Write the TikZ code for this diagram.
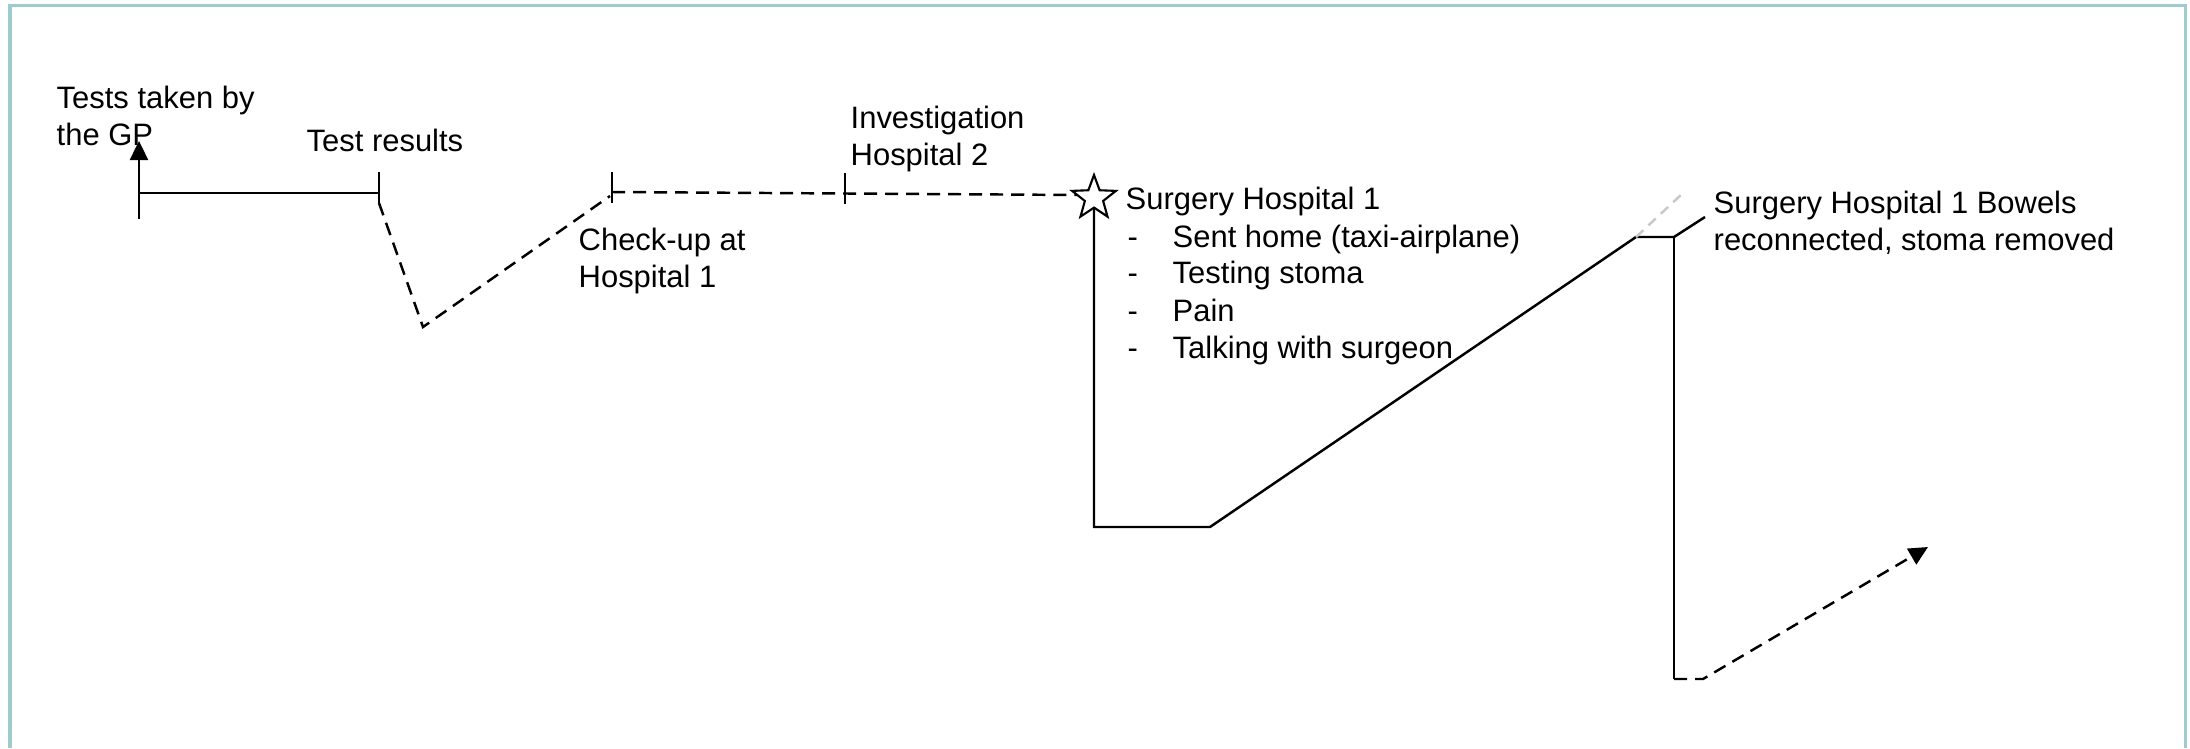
\documentclass[tikz,border=0pt]{standalone}
\usepackage{fontspec}
\setmainfont{Liberation Sans}
\usetikzlibrary{shapes.geometric,arrows.meta}
\definecolor{frameteal}{RGB}{158,204,204}
\definecolor{lightdash}{RGB}{200,200,200}
\begin{document}
\begin{tikzpicture}[x=0.01cm,y=-0.01cm,
  line/.style={line width=0.7pt, black},
  dashline/.style={line, dash pattern=on 0.13cm off 0.08cm},
  graydash/.style={line width=0.7pt, lightdash, dash pattern=on 0.1cm off 0.07cm},
  lbl/.style={font=\fontsize{8.8}{10.3}\selectfont, inner sep=0pt, anchor=base west, align=left},
  tip/.style={-{Triangle[width=0.18cm,length=0.19cm]}}]
\useasboundingbox (0,0) rectangle (2190,748);
\draw[frameteal, line width=0.03cm] (10,748) -- (10,5) -- (2185,5) -- (2185,748);
% points
\coordinate (gpB) at (139,219);
\coordinate (gpT) at (139,141);
\coordinate (gpH) at (139,193);
\coordinate (trH) at (379,193);
\coordinate (trT) at (379,172);
\coordinate (trB) at (379,203);
\coordinate (low1) at (423,327);
\coordinate (chT) at (612,172);
\coordinate (chB) at (612,203);
\coordinate (chM) at (612,192);
\coordinate (chD) at (610,196);
\coordinate (invT) at (845,173);
\coordinate (invB) at (845,204);
\coordinate (s1) at (1094,527);
\coordinate (s2) at (1210,527);
\coordinate (s3) at (1636,237);
\coordinate (s4) at (1674,237);
\coordinate (s5) at (1705,217);
\coordinate (s6) at (1683,193);
\coordinate (s7) at (1674,679);
\coordinate (s8) at (1703,679);
\coordinate (s9) at (1928,547);
% first segment
\draw[line, tip] (gpB) -- (gpT);
\draw[line] (gpH) -- (trH);
\draw[line] (trT) -- (trB);
\draw[dashline] (trB) -- (low1) -- (chD);
\draw[line] (chT) -- (chB);
\draw[line] (invT) -- (invB);
\draw[dashline] (chM) -- (1080,195);
\node[star, star points=5, star point ratio=2.4, draw, fill=white, line width=0.6pt, minimum size=0.46cm, inner sep=0pt] (star) at (1094,198) {};
\draw[line] (star.south) -- (s1) -- (s2) -- (s3) -- (s4) -- (s5);
\draw[graydash] (s3) -- (s6);
\draw[line] (s4) -- (s7);
\draw[dashline, tip] (s7) -- (s8) -- (s9);
% labels
\node[lbl] (gp) at (56,145) {Tests taken by\\the GP};
\node[lbl] (tr) at (306,151) {Test results};
\node[lbl] (ch) at (578,287) {Check-up at\\Hospital 1};
\node[lbl] (inv) at (850,165) {Investigation\\Hospital 2};
\node[lbl] (surg) at (1125,358) {Surgery Hospital 1\\[0.02cm]
\makebox[0.47cm][l]{\hspace{0.02cm}-}Sent home (taxi-airplane)\\
\makebox[0.47cm][l]{\hspace{0.02cm}-}Testing stoma\\[0.02cm]
\makebox[0.47cm][l]{\hspace{0.02cm}-}Pain\\
\makebox[0.47cm][l]{\hspace{0.02cm}-}Talking with surgeon};
\node[lbl] (bow) at (1713,250) {Surgery Hospital 1 Bowels\\reconnected, stoma removed};
\end{tikzpicture}
\end{document}
